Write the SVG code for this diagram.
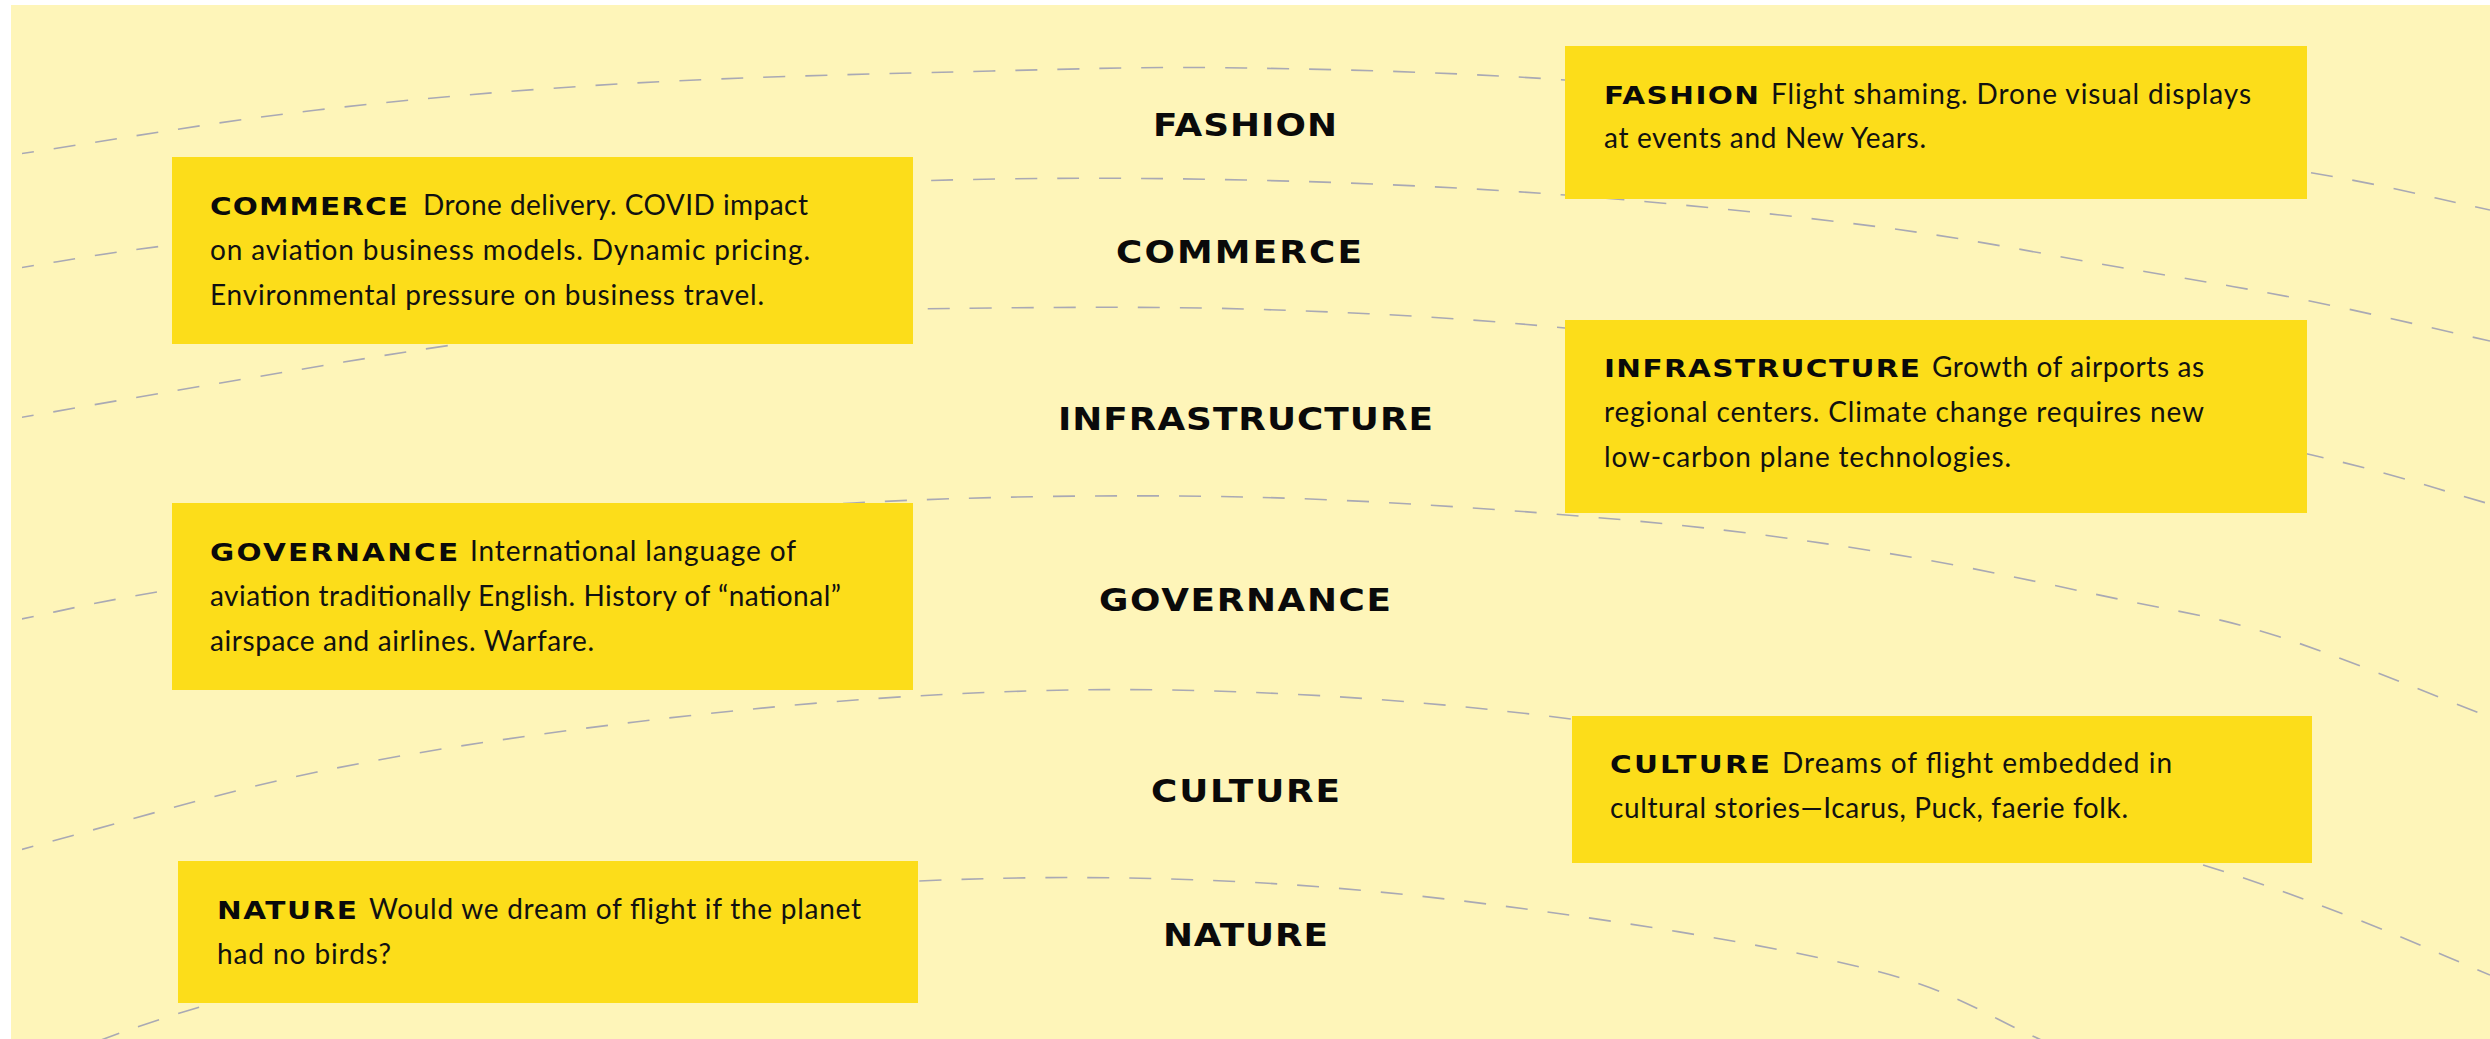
<svg xmlns="http://www.w3.org/2000/svg" width="2490" height="1039" viewBox="0 0 2490 1039">
<style>
.bg{fill:#FEF5B9}
.box{fill:#FCDD1A}
.arc{fill:none;stroke:#A9A9B4;stroke-width:1.6;stroke-dasharray:22 20}
.cl{font-family:"DejaVu Sans",sans-serif;font-weight:bold;font-size:32px;fill:#0a0a0a}
.bl{font-family:"DejaVu Sans",sans-serif;font-weight:bold;font-size:25px;fill:#0a0a0a}
.bt{font-family:Lato,"Liberation Sans",sans-serif;font-size:28px;fill:#111}
</style>
<defs>
<clipPath id="bgclip"><rect x="22" y="5" width="2468" height="1034"/></clipPath>
</defs>
<rect width="2490" height="1039" fill="#ffffff"/>
<rect class="bg" x="11" y="5" width="2479" height="1034"/>
<g id="connectors" clip-path="url(#bgclip)">
<path class="arc" d="M12,155 C114,140 213,122 317,110 S522.5,89.5 635,83 S890,73.5 992,71 S1149.5,66.5 1245,68 S1449.8,72 1565,80 S1812.3,100.7 1936,116 S2214.7,156.3 2307,172 S2429,197.3 2490,210"/>
<path class="arc" d="M12,269 C65,261 83,256.2 171,245 S416.3,212.7 540,202 S795.5,184.7 913,181 S1136.3,177.7 1245,180 S1459.2,187.2 1565,195 S1787.8,215 1880,227 S2048,255 2118,267 S2238,286.7 2300,299 S2426.7,327 2490,341"/>
<path class="arc" d="M12,419 C87.3,406 164.7,392.3 238,380 S378.3,355.7 452,345 S603.2,322 680,316 S818.8,310.2 913,309 S1136.3,305.8 1245,309 S1449.5,316.8 1565,328 S1813.5,354.8 1938,376 S2220,433.7 2312,455 S2430.7,487.7 2490,504"/>
<path class="arc" d="M12,621 C62.3,611 79.7,605 163,591 S397,551.7 512,537 S731,509.7 853,503 S1117.2,494.3 1244,497 S1508,509.8 1614,519 S1796,538.7 1880,552 S2051.8,585 2118,599 S2215,616.3 2277,636 S2419,690 2490,717"/>
<path class="arc" d="M12,852 C113.7,825.3 213.2,793.7 317,772 S529.2,735 635,722 S850.5,699 952,694 S1143.5,688.2 1244,692 S1448.2,703.8 1555,717 S1778,746.7 1885,771 S2118.5,838.3 2197,863 S2307.2,900.3 2356,919 S2445.3,956.3 2490,975"/>
<path class="arc" d="M20,1070 C83.3,1048 119.3,1030.3 210,1004 S446,932.5 564,912 S804.5,886 918,881 S1137.7,876.5 1245,882 S1456.2,899 1562,914 S1799.3,950.7 1880,972 S1990.7,1018.7 2046,1042"/>
</g>
<g id="node-fashion">
<rect class="box" x="1565" y="46" width="742" height="153"/>
<text class="bl" transform="translate(1604,104) scale(1.18,1)" textLength="131.4" lengthAdjust="spacing">FASHION</text>
<text class="bt" x="1771" y="104" textLength="480" lengthAdjust="spacing">Flight shaming. Drone visual displays</text>
<text class="bt" x="1604" y="148" textLength="322" lengthAdjust="spacing">at events and New Years.</text>
</g>
<g id="node-commerce">
<rect class="box" x="172" y="157" width="741" height="187"/>
<text class="bl" transform="translate(210,215) scale(1.18,1)" textLength="167.8" lengthAdjust="spacing">COMMERCE</text>
<text class="bt" x="423" y="215" textLength="385" lengthAdjust="spacing">Drone delivery. COVID impact</text>
<text class="bt" x="210" y="260" textLength="600" lengthAdjust="spacing">on aviation business models. Dynamic pricing.</text>
<text class="bt" x="210" y="305" textLength="554" lengthAdjust="spacing">Environmental pressure on business travel.</text>
</g>
<g id="node-infrastructure">
<rect class="box" x="1565" y="320" width="742" height="193"/>
<text class="bl" transform="translate(1604,377) scale(1.18,1)" textLength="267.8" lengthAdjust="spacing">INFRASTRUCTURE</text>
<text class="bt" x="1932" y="377" textLength="272" lengthAdjust="spacing">Growth of airports as</text>
<text class="bt" x="1604" y="422" textLength="600" lengthAdjust="spacing">regional centers. Climate change requires new</text>
<text class="bt" x="1604" y="467" textLength="407" lengthAdjust="spacing">low-carbon plane technologies.</text>
</g>
<g id="node-governance">
<rect class="box" x="172" y="503" width="741" height="187"/>
<text class="bl" transform="translate(210,561) scale(1.18,1)" textLength="210.2" lengthAdjust="spacing">GOVERNANCE</text>
<text class="bt" x="470" y="561" textLength="326" lengthAdjust="spacing">International language of</text>
<text class="bt" x="210" y="606" textLength="631" lengthAdjust="spacing">aviation traditionally English. History of “national”</text>
<text class="bt" x="210" y="651" textLength="384" lengthAdjust="spacing">airspace and airlines. Warfare.</text>
</g>
<g id="node-culture">
<rect class="box" x="1572" y="716" width="740" height="147"/>
<text class="bl" transform="translate(1610,773) scale(1.18,1)" textLength="135.6" lengthAdjust="spacing">CULTURE</text>
<text class="bt" x="1782" y="773" textLength="390" lengthAdjust="spacing">Dreams of flight embedded in</text>
<text class="bt" x="1610" y="818" textLength="518" lengthAdjust="spacing">cultural stories—Icarus, Puck, faerie folk.</text>
</g>
<g id="node-nature">
<rect class="box" x="178" y="861" width="740" height="142"/>
<text class="bl" transform="translate(217,919) scale(1.18,1)" textLength="118.6" lengthAdjust="spacing">NATURE</text>
<text class="bt" x="369" y="919" textLength="492" lengthAdjust="spacing">Would we dream of flight if the planet</text>
<text class="bt" x="217" y="964" textLength="174" lengthAdjust="spacing">had no birds?</text>
</g>
<g id="center-labels">
<text class="cl" transform="translate(1153,136) scale(1.12,1)" textLength="164.3" lengthAdjust="spacing">FASHION</text>
<text class="cl" transform="translate(1116,263) scale(1.12,1)" textLength="219.6" lengthAdjust="spacing">COMMERCE</text>
<text class="cl" transform="translate(1058,430) scale(1.12,1)" textLength="334.8" lengthAdjust="spacing">INFRASTRUCTURE</text>
<text class="cl" transform="translate(1099,611) scale(1.12,1)" textLength="260.7" lengthAdjust="spacing">GOVERNANCE</text>
<text class="cl" transform="translate(1151,802) scale(1.12,1)" textLength="168.8" lengthAdjust="spacing">CULTURE</text>
<text class="cl" transform="translate(1163,946) scale(1.12,1)" textLength="147.3" lengthAdjust="spacing">NATURE</text>
</g>
</svg>
